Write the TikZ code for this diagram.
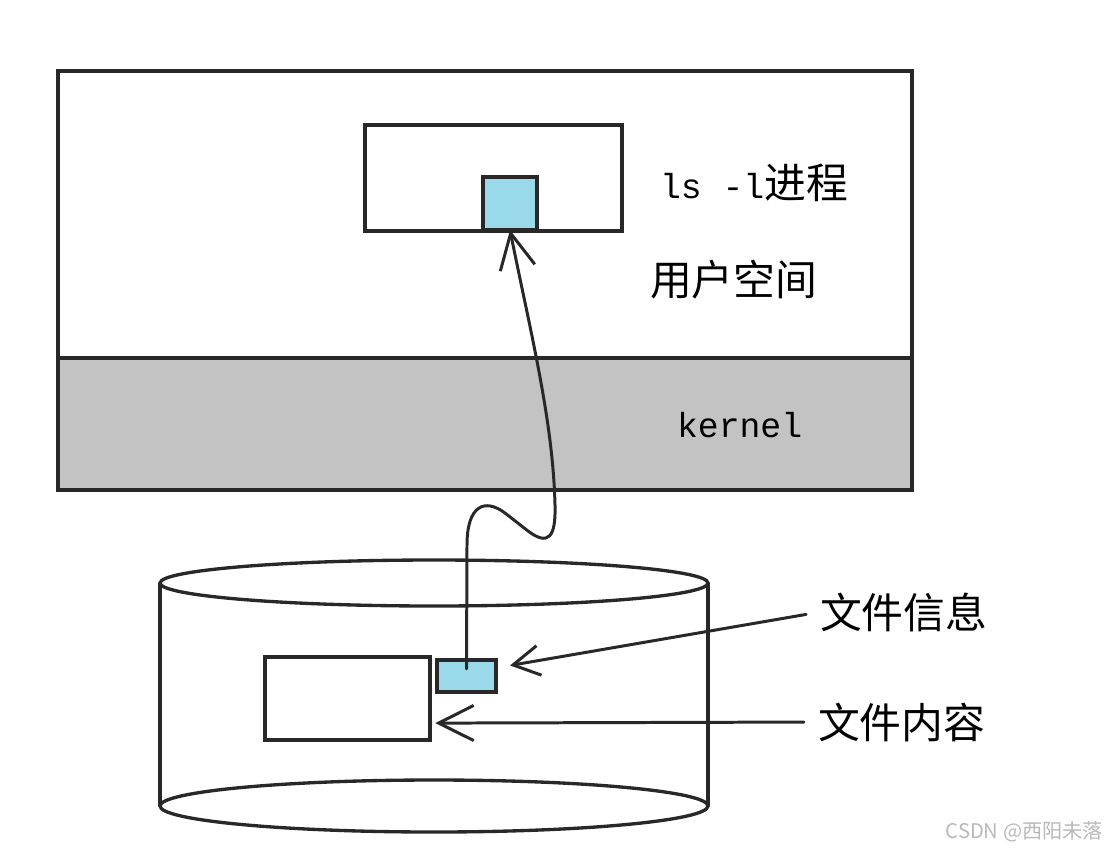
\documentclass[tikz,border=0pt]{standalone}
\usepackage{fontspec}
\setmonofont{Liberation Mono}
\newfontfamily\cjk{Noto Sans CJK SC}
\usetikzlibrary{arrows.meta}
\definecolor{memblue}{RGB}{153,217,234}
\definecolor{kgray}{RGB}{195,195,195}
\definecolor{pen}{RGB}{40,40,40}

\begin{document}
\begin{tikzpicture}[
  x=0.02cm, y=-0.02cm,
  every node/.style={inner sep=0pt, outer sep=0pt},
  box/.style={draw=pen, line width=1.9pt, rectangle},
  mem/.style={box, fill=memblue},
  txt/.style={anchor=west, font=\cjk\fontsize{23.8pt}{28pt}\selectfont},
  tt/.style={anchor=west, font=\ttfamily\fontsize{19.8pt}{24pt}\selectfont},
  link/.style={draw=pen, line width=1.7pt, line cap=round, line join=round,
    -{Straight Barb[length=20pt, width=20pt, line width=1.7pt]}}
]
\useasboundingbox (0,0) rectangle (1109,853);

\node[box, minimum width=17.08cm, minimum height=8.38cm] (sys) at (485,280.5) {};
\node[box, fill=kgray, minimum width=17.08cm, minimum height=2.64cm] (kspace) at (485,424) {};
\node[box, fill=white, minimum width=5.14cm, minimum height=2.12cm] (proc) at (493.5,178) {};
\node[mem, minimum width=1.08cm, minimum height=1.06cm] (fdesc) at (510,203.5) {};

\node[tt] (lsproc) at (660,183) {ls -l{\cjk\fontsize{23.8pt}{28pt}\selectfont 进程}};
\node[txt] (user) at (650,280) {用户空间};
\node[tt] (kern) at (677,425) {kernel};

\draw[box] (160,583) -- (160,806) (708,583) -- (708,806);
\draw[box] (434,583) ellipse [x radius=274, y radius=23];
\draw[box] (434,806) ellipse [x radius=274, y radius=26];

\node[box, minimum width=3.3cm, minimum height=1.66cm] (fcontent) at (347.5,698.5) {};
\node[mem, minimum width=1.18cm, minimum height=0.64cm] (finfo) at (466.5,676) {};

\node[txt] (infolabel) at (820,612) {文件信息};
\node[txt] (contentlabel) at (818,722) {文件内容};

\draw[link] ([yshift=4pt]finfo.center) -- (467,545)
  .. controls (467,505) and (485,498) .. (505,513) -- (528,531)
  .. controls (548,546) and (556,538) .. (555,505)
  .. controls (553,420) and (530,330) .. (fdesc.south);
\draw[link, shorten <=8pt, -{Straight Barb[length=15pt, width=17pt, line width=1.7pt]}]
  (infolabel.west) -- ([xshift=8pt, yshift=6pt]finfo.east);
\draw[link, shorten <=8pt] (contentlabel.west) -- ([xshift=3pt, yshift=-14pt]fcontent.east);

\node[anchor=east, text=gray!55, font=\cjk\fontsize{11.5pt}{14pt}\selectfont] (wm) at (1103,832) {CSDN @西阳未落};
\end{tikzpicture}
\end{document}
